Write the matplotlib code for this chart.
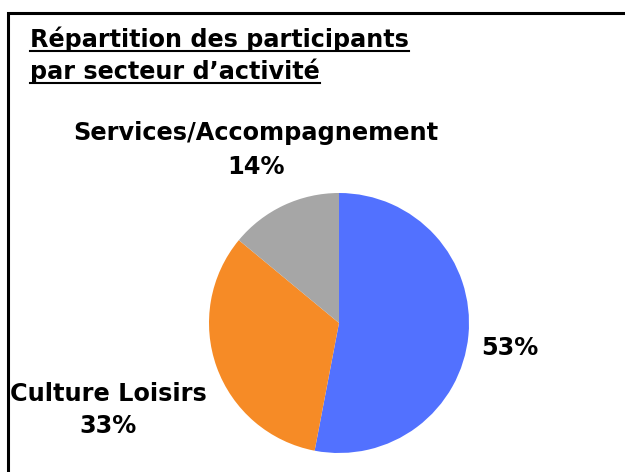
import matplotlib
matplotlib.use("Agg")
import matplotlib.pyplot as plt
from matplotlib.patches import Rectangle
from matplotlib.lines import Line2D

plt.rcParams['font.family'] = ['DejaVu Sans']

secteurs = ['Services/Accompagnement', 'Culture Loisirs', '']
parts = [14, 33, 53]
couleurs = ['#A6A6A6', '#F68B26', '#5271FF']
titre = ['Répartition des participants', 'par secteur d\u2019activité']

W, H = 625, 472
fig = plt.figure(figsize=(W / 100, H / 100), dpi=100)

# frame, cut off on the right and bottom
fig.patches.append(Rectangle((8 / W, -0.1), 1.2, 1 - 13 / H + 0.1,
                             transform=fig.transFigure, fill=False,
                             edgecolor='black', linewidth=2.2))

cx, cy, r = 339, 323, 130
ax = fig.add_axes([(cx - r) / W, (H - cy - r) / H, 2 * r / W, 2 * r / H])
ax.pie(parts[::-1], colors=couleurs[::-1], startangle=90, counterclock=False,
       radius=1, wedgeprops=dict(linewidth=0))
ax.set_xlim(-1, 1)
ax.set_ylim(-1, 1)
ax.axis('off')

# labels, in pixel positions of the figure
def px(x, y):
    return x / W, 1 - y / H

lab_style = dict(fontsize=17.3, fontweight='bold', ha='center', va='baseline')
fig.text(*px(256, 140), secteurs[0], **lab_style)
fig.text(*px(256, 174), f'{parts[0]}%', **lab_style)
fig.text(*px(108, 401), secteurs[1], **lab_style)
fig.text(*px(108, 433), f'{parts[1]}%', **lab_style)
fig.text(*px(510, 355), f'{parts[2]}%', **lab_style)

# underlined title
t_objs = []
for i, line in enumerate(titre):
    t = fig.text(*px(30, 47 + 32 * i), line, fontsize=17.2, fontweight='bold',
                 ha='left', va='baseline')
    t_objs.append(t)

fig.canvas.draw()
renderer = fig.canvas.get_renderer()
for t in t_objs:
    bb = t.get_window_extent(renderer)
    x0, x1 = bb.x0 / W, bb.x1 / W
    xb, yb = t.get_position()
    yl = yb - 4 / H
    fig.lines.append(Line2D([x0, x1], [yl, yl], transform=fig.transFigure,
                            color='black', linewidth=1.5))

fig.savefig('out.png', dpi=100)
